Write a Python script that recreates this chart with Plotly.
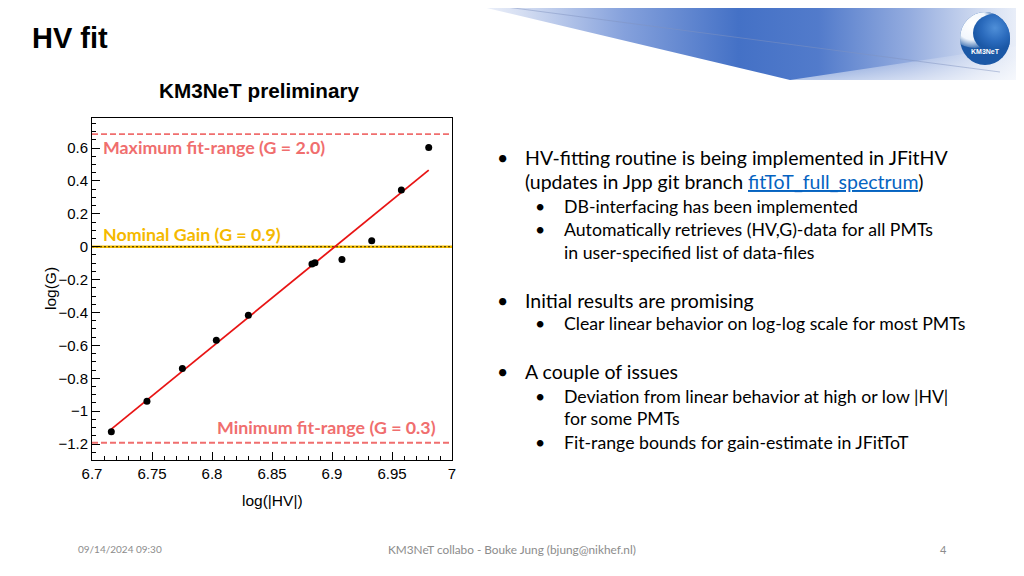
import base64
import plotly.graph_objects as go

# ---------------- data ----------------
log_hv = [6.7161, 6.7458, 6.7753, 6.8036, 6.8303, 6.8833, 6.8858, 6.9083, 6.9331, 6.9578, 6.9806]
log_g = [-1.125, -0.939, -0.740, -0.568, -0.416, -0.105, -0.097, -0.077, 0.036, 0.345, 0.604]
fit_x = [6.7161, 6.9806]
fit_y = [-1.109, 0.466]
max_fit_level = 0.685
min_fit_level = -1.192
nominal_level = 0.0
x_ticks = [6.7, 6.75, 6.8, 6.85, 6.9, 6.95, 7.0]
x_tick_labels = ["6.7", "6.75", "6.8", "6.85", "6.9", "6.95", "7"]
y_ticks = [-1.2, -1.0, -0.8, -0.6, -0.4, -0.2, 0.0, 0.2, 0.4, 0.6]
y_tick_labels = ["\u22121.2", "\u22121", "\u22120.8", "\u22120.6", "\u22120.4", "\u22120.2", "0", "0.2", "0.4", "0.6"]

W, H = 1024, 576
OFF = 8  # page body margin offset compensation
def px(x):
    return (x - OFF) / W
def py(y):
    return 1 - (y - OFF) / H

fig = go.Figure()

fig.add_trace(go.Scatter(x=fit_x, y=fit_y, mode="lines",
                         line=dict(color="rgb(232,20,20)", width=1.8),
                         hoverinfo="skip", showlegend=False))
fig.add_trace(go.Scatter(x=log_hv, y=log_g, mode="markers",
                         marker=dict(color="black", size=7),
                         showlegend=False))

for lvl, col, dash, wid in [
    (max_fit_level, "rgb(240,110,110)", "6px,3px", 1.8),
    (min_fit_level, "rgb(240,110,110)", "6px,3px", 1.8),
    (nominal_level, "rgb(245,190,0)", "solid", 2.6),
    (nominal_level, "black", "2px,2px", 0.8),
]:
    fig.add_shape(type="line", xref="x domain", yref="y", x0=0, x1=1, y0=lvl, y1=lvl,
                  line=dict(color=col, width=wid, dash=dash), layer="below")

x0p, x1p = 92, 452
y0p, y1p = 118, 460

fig.update_layout(
    width=W, height=H,
    margin=dict(l=0, r=0, t=0, b=0, autoexpand=False),
    paper_bgcolor="white", plot_bgcolor="white",
    showlegend=False,
    xaxis=dict(domain=[px(x0p), px(x1p)], range=[6.7, 7.0], automargin=False,
               tickvals=x_ticks, ticktext=x_tick_labels,
               ticks="inside", ticklen=8, tickwidth=1, tickcolor="black",
               minor=dict(dtick=0.01, ticks="inside", ticklen=4, tickcolor="black", tickwidth=1, showgrid=False),
               showgrid=False, zeroline=False,
               showline=True, linecolor="black", linewidth=1, mirror=True,
               tickfont=dict(family="Liberation Sans, Arial", size=15, color="black")),
    yaxis=dict(domain=[py(y1p), py(y0p)], range=[-1.297, 0.783], automargin=False,
               tickvals=y_ticks, ticktext=y_tick_labels,
               ticks="inside", ticklen=8, tickwidth=1, tickcolor="black",
               minor=dict(dtick=0.05, ticks="inside", ticklen=4, tickcolor="black", tickwidth=1, showgrid=False),
               showgrid=False, zeroline=False,
               showline=True, linecolor="black", linewidth=1, mirror=True,
               tickfont=dict(family="Liberation Sans, Arial", size=15, color="black")),
)

wedge_svg = """<svg xmlns='http://www.w3.org/2000/svg' width='1024' height='80' viewBox='0 0 1024 80'>
<defs>
<linearGradient id='g' x1='453' y1='0' x2='1024' y2='0' gradientUnits='userSpaceOnUse'>
<stop offset='0' stop-color='#ffffff'/>
<stop offset='0.12' stop-color='#d5def2'/>
<stop offset='0.30' stop-color='#85a1dc'/>
<stop offset='0.50' stop-color='#4471c6'/>
<stop offset='0.64' stop-color='#527bcb'/>
<stop offset='0.80' stop-color='#94acdf'/>
<stop offset='0.92' stop-color='#cfdaf0'/>
<stop offset='1' stop-color='#eef2fa'/>
</linearGradient>
<linearGradient id='v' x1='0' y1='0' x2='0' y2='80' gradientUnits='userSpaceOnUse'>
<stop offset='0' stop-color='#ffffff' stop-opacity='0'/>
<stop offset='0.7' stop-color='#ffffff' stop-opacity='0.15'/>
<stop offset='1' stop-color='#ffffff' stop-opacity='0.6'/>
</linearGradient>
<radialGradient id='h' cx='972' cy='24' r='26' gradientUnits='userSpaceOnUse'>
<stop offset='0' stop-color='#ffffff' stop-opacity='1'/>
<stop offset='0.6' stop-color='#f2f7fd' stop-opacity='1'/>
<stop offset='1' stop-color='#ffffff' stop-opacity='0'/>
</radialGradient>
<radialGradient id='b' cx='995' cy='28' r='22' gradientUnits='userSpaceOnUse'>
<stop offset='0' stop-color='#4f8fd8'/>
<stop offset='0.6' stop-color='#2b6bbd'/>
<stop offset='1' stop-color='#1b58a6'/>
</radialGradient>
<clipPath id='c'><ellipse cx='985' cy='38.5' rx='25' ry='26.5'/></clipPath>
</defs>
<polygon points='453,0 1024,0 1024,80 790,80' fill='url(#g)'/>
<polygon points='790,80 1024,80 1024,45' fill='url(#v)'/>
<line x1='453' y1='0' x2='1000' y2='72' stroke='#8093bf' stroke-width='0.7' stroke-opacity='0.7'/>
<ellipse cx='985' cy='38.5' rx='25' ry='26.5' fill='#1b58a6'/>
<g clip-path='url(#c)'>
<ellipse cx='975' cy='26' rx='26' ry='22' fill='url(#h)'/>
<ellipse cx='994' cy='33' rx='21' ry='19' fill='url(#b)'/>
</g>
</svg>"""
fig.add_layout_image(dict(
    source="data:image/svg+xml;base64," + base64.b64encode(wedge_svg.encode()).decode(),
    xref="paper", yref="paper", x=px(0), y=py(0), sizex=1, sizey=80 / H,
    xanchor="left", yanchor="top", sizing="stretch", layer="below"))

def ann(text, x, y, size, color="black", family="Lato", xanchor="left", yanchor="middle", **kw):
    fig.add_annotation(text=text, x=px(x), y=py(y), xref="paper", yref="paper",
                       xanchor=xanchor, yanchor=yanchor, showarrow=False,
                       font=dict(size=size, color=color, family=family), **kw)

ann("<b>KM3NeT</b>", 985, 52, 7, color="white", family="Liberation Sans, Arial", xanchor="center")
ann("<b>HV fit</b>", 30, 38, 29, family="Liberation Sans, Arial")
ann("<b>KM3NeT preliminary</b>", 259, 90, 20.7, family="Liberation Sans, Arial", xanchor="center")
ann("log(|HV|)", 272, 500, 15.5, family="Liberation Sans, Arial", xanchor="center")
ann("log(G)", 50, 289, 15.5, family="Liberation Sans, Arial", xanchor="center", textangle=-90)

ann("<b>Maximum fit-range (G = 2.0)</b>", 101, 147, 17.8, color="rgb(240,110,110)")
ann("<b>Nominal Gain (G = 0.9)</b>", 101, 234, 17.8, color="rgb(245,185,0)")
ann("<b>Minimum fit-range (G = 0.3)</b>", 438, 427, 17.8, color="rgb(240,110,110)", xanchor="right")

main_size, sub_size = 19.5, 17.7
bullets = [
    (502, 523, 157, main_size, "HV-fitting routine is being implemented in JFitHV", True),
    (None, 523, 182, main_size, "(updates in Jpp git branch <span style='color:#0563c1'><u>fitToT_full_spectrum</u></span>)", False),
    (540, 562, 206, sub_size, "DB-interfacing has been implemented", True),
    (540, 562, 229, sub_size, "Automatically retrieves (HV,G)-data for all PMTs", True),
    (None, 562, 252, sub_size, "in user-specified list of data-files", False),
    (502, 523, 300, main_size, "Initial results are promising", True),
    (540, 562, 323, sub_size, "Clear linear behavior on log-log scale for most PMTs", True),
    (502, 523, 371, main_size, "A couple of issues", True),
    (540, 562, 396, sub_size, "Deviation from linear behavior at high or low |HV|", True),
    (None, 562, 418, sub_size, "for some PMTs", False),
    (540, 562, 442, sub_size, "Fit-range bounds for gain-estimate in JFitToT", True),
]
for bx, tx, y, s, t, has_bullet in bullets:
    if has_bullet:
        ann("\u2022", bx, y, s, xanchor="center")
    ann(t, tx, y, s)

ann("09/14/2024 09:30", 120, 549, 10, color="#8c8c8c", xanchor="center")
ann("KM3NeT collabo - Bouke Jung (bjung@nikhef.nl)", 512, 549, 11.8, color="#8c8c8c", xanchor="center")
ann("4", 943, 549, 11, color="#8c8c8c", xanchor="center")

fig.write_html("out.html")
